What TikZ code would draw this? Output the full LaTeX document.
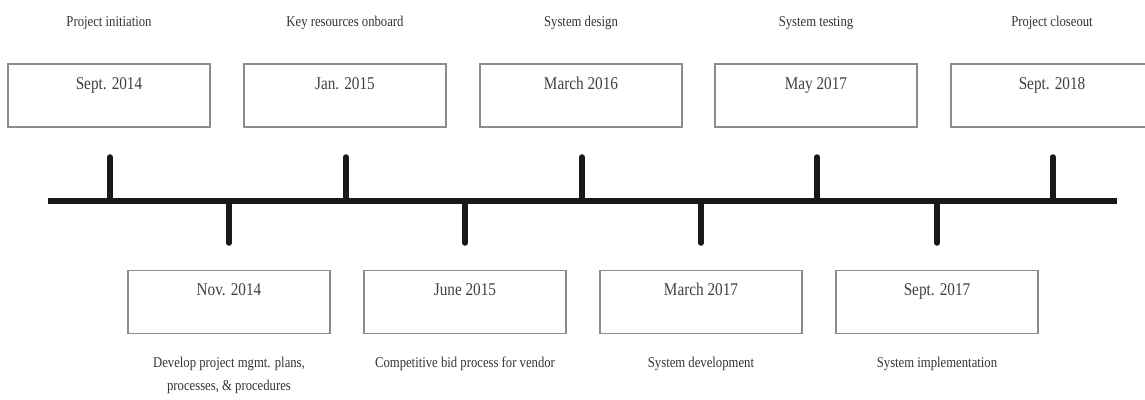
\documentclass[tikz,border=0pt]{standalone}
\usepackage{fontspec}
\setmainfont[FakeStretch=0.85]{Liberation Serif}
\begin{document}
\begin{tikzpicture}[x=1bp,y=-1bp,
  datebox/.style={draw=black!45,line width=1.1bp,minimum width=202bp,minimum height=63bp,inner sep=0pt},
  datetext/.style={font=\fontsize{18}{20}\selectfont,text=black!75,anchor=base,inner sep=0pt},
  lbl/.style={font=\fontsize{15}{23}\selectfont,text=black!80,align=center,anchor=base,inner sep=0pt},
  tick/.style={line width=5.5bp,draw=black!90,line cap=round},
  axis/.style={line width=6bp,draw=black!90}]
\useasboundingbox (0,0) rectangle (1145,399);
\clip (0,0) rectangle (1145,399);
% top events
\foreach \i/\x/\d/\l in {1/109/{Sept. 2014}/{Project initiation},
                        2/345/{Jan. 2015}/{Key resources onboard},
                        3/581/{March 2016}/{System design},
                        4/816/{May 2017}/{System testing},
                        5/1052/{Sept. 2018}/{Project closeout}}{
  \node[datebox] (tb\i) at (\x,95.5) {};
  \node[datetext] (td\i) at (\x,89) {\d};
  \node[lbl] (tl\i) at (\x,26) {\l};
  \coordinate (tt\i) at (\x+1,157);
  \coordinate (ta\i) at (\x+1,201);
}
% bottom events
\foreach \i/\x/\d in {1/229/{Nov. 2014},2/465/{June 2015},3/701/{March 2017},4/937/{Sept. 2017}}{
  \node[datebox] (bb\i) at (\x,302) {};
  \node[datetext] (bd\i) at (\x,295) {\d};
  \coordinate (bt\i) at (\x,243);
  \coordinate (ba\i) at (\x,201);
}
\node[lbl] (bl1) at (229,367) {Develop project mgmt. plans,};
\node[lbl] (bl1b) at (229,390) {processes, \& procedures};
\node[lbl] (bl2) at (465,367) {Competitive bid process for vendor};
\node[lbl] (bl3) at (701,367) {System development};
\node[lbl] (bl4) at (937,367) {System implementation};
% axis
\coordinate (al) at (48,201);
\coordinate (ar) at (1117,201);
\foreach \i in {1,...,5}{\draw[tick] (ta\i) -- (tt\i);}
\foreach \i in {1,...,4}{\draw[tick] (ba\i) -- (bt\i);}
\draw[axis] (al) -- (ar);
\end{tikzpicture}
\end{document}
